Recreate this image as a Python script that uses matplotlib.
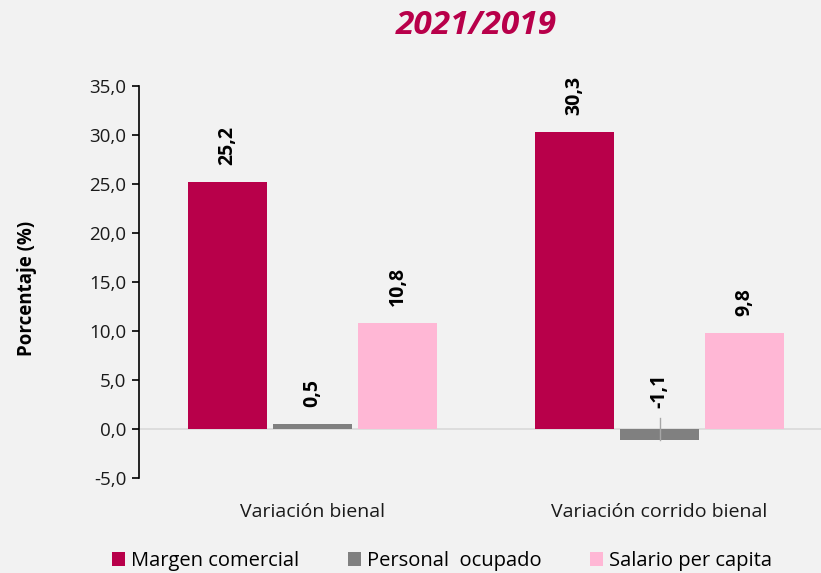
import matplotlib
matplotlib.use("Agg")
import matplotlib.pyplot as plt
import numpy as np

plt.rcParams['font.family'] = ['Open Sans', 'DejaVu Sans']

categories = ["Variación bienal", "Variación corrido bienal"]
series_names = ["Margen comercial", "Personal  ocupado", "Salario per capita"]
margen = [25.2, 30.3]
personal = [0.5, -1.1]
salario = [10.8, 9.8]
yticks = [-5, 0, 5, 10, 15, 20, 25, 30, 35]

colors = ["#B8004A", "#808080", "#FFB7D5"]
bg = "#F2F2F2"

W, H = 821, 573
fig = plt.figure(figsize=(W / 100, H / 100), dpi=100, facecolor=bg)
ax = fig.add_axes([139 / W, (H - 478) / H, 694 / W, 392 / H])
ax.set_facecolor(bg)

x = np.arange(len(categories))
width = 0.225
offset = 0.245
series = [margen, personal, salario]
for i, (vals, col, name) in enumerate(zip(series, colors, series_names)):
    xs = x + (i - 1) * offset
    ax.bar(xs, vals, width=width, color=col, label=name, zorder=2)
    for xi, v in zip(xs, vals):
        lbl = f"{v:.1f}".replace(".", ",")
        if v >= 0:
            ax.annotate(lbl, (xi, v), xytext=(0, 12.5), textcoords="offset points",
                        rotation=90, ha="center", va="bottom",
                        fontsize=14, fontweight="bold", color="black")
        else:
            # negative value: label sits above the axis with a leader line
            ax.plot([xi, xi], [v, 1.1], color="#A6A6A6", lw=1, zorder=3)
            ax.annotate(lbl, (xi, 1.1), xytext=(0, 7), textcoords="offset points",
                        rotation=90, ha="center", va="bottom",
                        fontsize=14, fontweight="bold", color="black")

ax.axhline(0, color="#D9D9D9", lw=1.2, zorder=1)
ax.set_xlim(-0.5, 1.5)
ax.set_ylim(-5, 35)
ax.set_yticks(yticks)
ax.set_yticklabels([f"{t:.1f}".replace(".", ",") for t in yticks], fontsize=13.5, color="#1a1a1a")
ax.tick_params(axis="y", direction="out", length=5, width=1.2, color="black", pad=4)
ax.set_xticks(x)
ax.set_xticklabels(categories, fontsize=14, color="#1a1a1a")
ax.tick_params(axis="x", length=0, pad=18)
for s in ["top", "right", "bottom"]:
    ax.spines[s].set_visible(False)
ax.spines["left"].set_color("black")
ax.spines["left"].set_linewidth(1.2)

fig.text(27 / W, 1 - 288 / H, "Porcentaje (%)", fontsize=13.5, fontweight="bold",
         rotation=90, ha="center", va="center")

fig.text(476 / W, 1 - 25 / H, "2021/2019", fontsize=24, fontweight="bold",
         fontstyle="italic", color="#B8004A", ha="center", va="center")

fig.legend(loc="center", bbox_to_anchor=(442 / W, 1 - 561 / H), ncol=3, frameon=False,
           fontsize=14.5, handlelength=0.65, handleheight=0.65, handletextpad=0.3,
           columnspacing=2.4)

fig.savefig("out.png", dpi=100, facecolor=bg)
